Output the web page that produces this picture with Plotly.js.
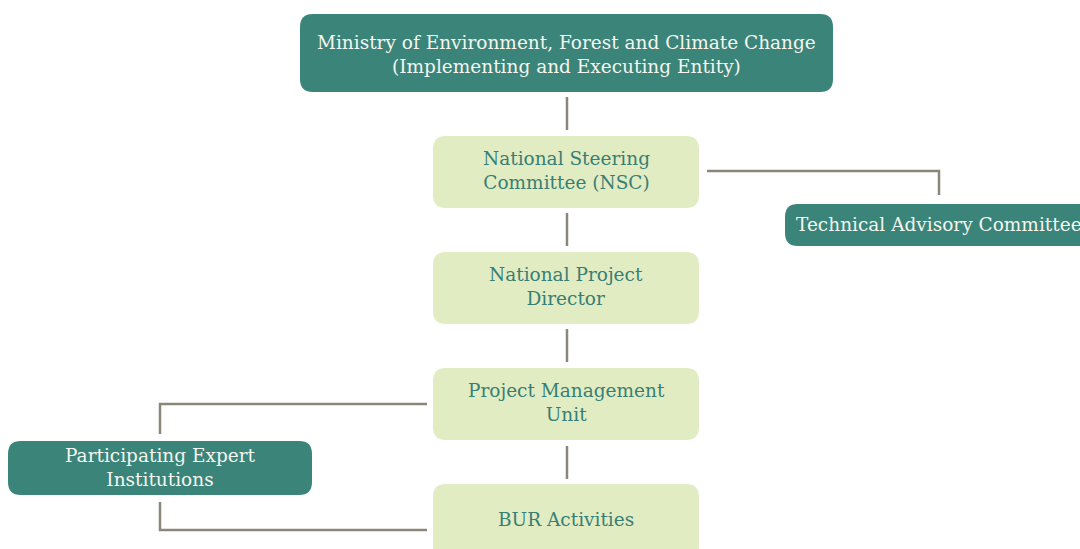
<!DOCTYPE html>
<html><head><meta charset="utf-8">
<script src="https://cdn.plot.ly/plotly-3.0.1.min.js"></script>
<style>html,body{margin:0;padding:0;background:#fff}#chart{width:1080px;height:549px}</style>
</head><body><div id="chart"></div>
<script>
// ---- data ----
const nodeIds = ["moefcc", "nsc", "npd", "pmu", "bur", "tac", "pei"];
const nodeLabels = [
  "Ministry of Environment, Forest and Climate Change<br>(Implementing and Executing Entity)",
  "National Steering<br>Committee (NSC)",
  "National Project<br>Director",
  "Project Management<br>Unit",
  "BUR Activities",
  "Technical Advisory Committee",
  "Participating Expert<br>Institutions"
];
const nodeKinds = ["dark", "light", "light", "light", "light", "dark", "dark"];
const edgeFrom = ["moefcc", "nsc", "npd", "pmu", "nsc", "pmu", "pei"];
const edgeTo   = ["nsc", "npd", "pmu", "bur", "tac", "pei", "bur"];

// ---- layout geometry (pixels) ----
const boxes = {
  moefcc: {x0: 300, x1: 833, y0: 14, y1: 92, r: 13},
  nsc: {x0: 433, x1: 699, y0: 136, y1: 208, r: 13},
  npd: {x0: 433, x1: 699, y0: 252, y1: 324, r: 13},
  pmu: {x0: 433, x1: 699, y0: 368, y1: 440, r: 13},
  bur: {x0: 433, x1: 699, y0: 484, y1: 560, r: 13},
  tac: {x0: 785, x1: 1093, y0: 204, y1: 246, r: 13},
  pei: {x0: 8, x1: 312, y0: 441, y1: 495, r: 13}
};
const textCenters = {moefcc: 54, nsc: 170, npd: 286, pmu: 402, bur: 519, tac: 224, pei: 467};
const edgePaths = [
  [[567, 97], [567, 130]],
  [[567, 213], [567, 246]],
  [[567, 329], [567, 362]],
  [[567, 446], [567, 479]],
  [[707, 171], [939, 171], [939, 195]],
  [[427, 404], [160, 404], [160, 434]],
  [[160, 502], [160, 530], [427, 530]]
];
const styles = {
  dark: {fill: "#3b8479", text: "#f4f6f0"},
  light: {fill: "#e2ecc3", text: "#377f74"}
};

function rr(b) {
  const {x0, x1, y0, y1, r} = b;
  return `M${x0 + r},${y0} L${x1 - r},${y0} Q${x1},${y0} ${x1},${y0 + r} L${x1},${y1 - r} Q${x1},${y1} ${x1 - r},${y1} L${x0 + r},${y1} Q${x0},${y1} ${x0},${y1 - r} L${x0},${y0 + r} Q${x0},${y0} ${x0 + r},${y0} Z`;
}

const shapes = [];
edgeFrom.forEach((f, i) => {
  const pts = edgePaths[i];
  const d = pts.map((p, j) => (j ? "L" : "M") + p[0] + "," + p[1]).join(" ");
  shapes.push({type: "path", xref: "x", yref: "y", path: d,
    line: {color: "#8a867a", width: 2.5}, fillcolor: "rgba(0,0,0,0)"});
});
const annotations = [];
nodeIds.forEach((id, i) => {
  const b = boxes[id], s = styles[nodeKinds[i]];
  shapes.push({type: "path", xref: "x", yref: "y", path: rr(b),
    fillcolor: s.fill, line: {width: 0}, layer: "above"});
  annotations.push({x: (b.x0 + b.x1) / 2, y: textCenters[id],
    xref: "x", yref: "y", text: nodeLabels[i], showarrow: false,
    font: {family: "DejaVu Serif, serif", size: 18.5, color: s.text},
    align: "center", xanchor: "center", yanchor: "middle"});
});

Plotly.newPlot("chart", [], {
  width: 1080, height: 549,
  margin: {l: 0, r: 0, t: 0, b: 0},
  paper_bgcolor: "#ffffff", plot_bgcolor: "#ffffff",
  xaxis: {range: [0, 1080], visible: false, fixedrange: true},
  yaxis: {range: [549, 0], visible: false, fixedrange: true},
  shapes: shapes, annotations: annotations, showlegend: false
}, {staticPlot: true, displayModeBar: false});
</script></body></html>
